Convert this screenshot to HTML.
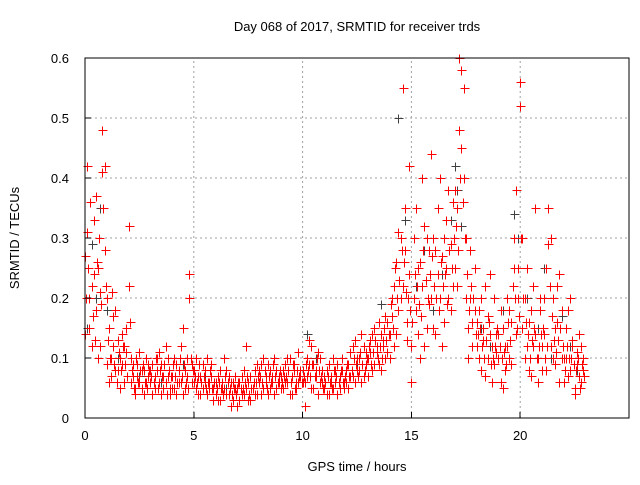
<!DOCTYPE html>
<html><head><meta charset="utf-8"><style>
body{margin:0;background:#fff;}
svg text{font-family:"Liberation Sans",sans-serif;font-size:13px;fill:#000;}
</style></head><body>
<svg id="chart" width="640" height="480" xmlns="http://www.w3.org/2000/svg">
<text x="357" y="31" text-anchor="middle">Day 068 of 2017, SRMTID for receiver trds</text>
<text transform="translate(19,238) rotate(-90)" text-anchor="middle">SRMTID / TECUs</text>
<text x="357" y="471" text-anchor="middle">GPS time / hours</text>
<g id="grid"></g><g id="marks" shape-rendering="crispEdges"></g>
<rect x="85" y="58" width="544" height="360" fill="none" stroke="#000" stroke-width="1" shape-rendering="crispEdges"/>
<g id="ticks" shape-rendering="crispEdges"></g>
</svg>
<script>
const xTicks=[0,5,10,15,20];
const yTicks=[0,0.1,0.2,0.3,0.4,0.5,0.6];
const yTickLabels=["0","0.1","0.2","0.3","0.4","0.5","0.6"];
const redT=[0,0.1,0.2,0.3,0.4,0.5,0.6,0.7,0.8,0.9,1,1.1,1.2,1.3,1.4,1.5,1.6,1.7,1.8,1.9,2,2.1,2.2,2.3,2.4,2.5,2.6,2.7,2.8,2.9,3,3.1,3.2,3.3,3.4,3.5,3.6,3.7,3.8,3.9,4,4.1,4.2,4.3,4.4,4.5,4.6,4.7,4.8,4.9,5,5.1,5.2,5.3,5.4,5.5,5.6,5.7,5.8,5.9,6,6.1,6.2,6.3,6.4,6.5,6.6,6.7,6.8,6.9,7,7.1,7.2,7.3,7.4,7.5,7.6,7.7,7.8,7.9,8,8.1,8.2,8.3,8.4,8.5,8.6,8.7,8.8,8.9,9,9.1,9.2,9.3,9.4,9.5,9.6,9.7,9.8,9.9,10,10.1,10.2,10.3,10.4,10.5,10.6,10.7,10.8,10.9,11,11.1,11.2,11.3,11.4,11.5,11.6,11.7,11.8,11.9,12,12.1,12.2,12.3,12.4,12.5,12.6,12.7,12.8,12.9,13,13.1,13.2,13.3,13.4,13.5,13.6,13.7,13.8,13.9,14,14.1,14.2,14.3,14.4,14.5,14.6,14.7,14.8,14.9,15,15.1,15.2,15.3,15.4,15.5,15.6,15.7,15.8,15.9,16,16.1,16.2,16.3,16.4,16.5,16.6,16.7,16.8,16.9,17,17.1,17.2,17.3,17.4,17.5,17.6,17.7,17.8,17.9,18,18.1,18.2,18.3,18.4,18.5,18.6,18.7,18.8,18.9,19,19.1,19.2,19.3,19.4,19.5,19.6,19.7,19.8,19.9,20,20.1,20.2,20.3,20.4,20.5,20.6,20.7,20.8,20.9,21,21.1,21.2,21.3,21.4,21.5,21.6,21.7,21.8,21.9,22,22.1,22.2,22.3,22.4,22.5,22.6,22.7,22.8,22.9];
const redA=[.27,.42,.15,.22,.33,.18,.25,.12,.48,.28, .09,.15,.07,.12,.18,.08,.1,.14,.06,.11, .32,.1,.07,.05,.09,.06,.08,.04,.1,.07, .06,.09,.05,.08,.11,.04,.07,.06,.1,.05, .07,.05,.09,.06,.12,.04,.08,.1,.24,.06, .08,.05,.07,.04,.09,.06,.1,.05,.07,.03, .04,.07,.03,.06,.05,.08,.04,.06,.03,.07, .05,.03,.07,.04,.12,.06,.03,.05,.08,.04, .06,.09,.05,.07,.04,.08,.06,.1,.05,.07, .07,.05,.09,.06,.1,.04,.08,.06,.11,.07, .08,.06,.1,.13,.05,.09,.07,.11,.06,.08, .05,.08,.04,.07,.1,.06,.09,.05,.08,.06, .06,.09,.11,.07,.13,.08,.1,.06,.12,.09, .1,.13,.08,.15,.11,.09,.14,.12,.1,.16, .14,.2,.12,.26,.18,.3,.22,.35,.16,.42, .12,.3,.18,.25,.1,.22,.32,.15,.28,.2, .15,.28,.35,.2,.12,.3,.25,.38,.18,.22, .25,.35,.48,.58,.55,.2,.15,.28,.12,.18, .12,.18,.08,.15,.22,.1,.14,.06,.2,.11, .1,.06,.15,.08,.12,.18,.09,.25,.14,.2, .56,.15,.1,.25,.08,.18,.12,.35,.06,.2, .12,.2,.08,.35,.3,.1,.15,.22,.06,.18, .1,.15,.07,.2,.12,.05,.09,.14,.06,.1];
const redB=[.14,.31,.2,.12,.24,.37,.1,.21,.41,.42, .2,.06,.1,.17,.08,.13,.05,.09,.12,.15, .22,.06,.09,.04,.07,.11,.05,.08,.06,.09, .08,.04,.07,.1,.06,.09,.05,.12,.07,.04, .05,.1,.04,.08,.06,.15,.05,.07,.2,.09, .06,.1,.04,.07,.05,.08,.04,.06,.09,.05, .06,.03,.08,.05,.1,.04,.07,.02,.06,.05, .02,.06,.04,.08,.05,.03,.07,.05,.04,.09, .08,.04,.1,.06,.09,.05,.07,.04,.08,.06, .05,.08,.06,.1,.04,.07,.09,.05,.06,.08, .06,.02,.07,.09,.12,.05,.08,.04,.1,.06, .07,.04,.09,.06,.05,.08,.04,.07,.1,.05, .08,.05,.07,.12,.06,.1,.08,.14,.07,.11, .07,.11,.14,.09,.12,.16,.08,.13,.17,.11, .1,.17,.22,.14,.31,.2,.55,.28,.13,.24, .06,.2,.35,.14,.26,.4,.12,.3,.19,.44, .3,.14,.24,.4,.27,.16,.33,.2,.29,.36, .38,.22,.6,.45,.4,.3,.1,.2,.16,.25, .16,.1,.2,.13,.07,.17,.24,.12,.09,.14, .14,.18,.05,.12,.2,.1,.16,.3,.38,.25, .52,.3,.2,.12,.16,.07,.22,.14,.1,.18, .08,.14,.25,.29,.12,.2,.09,.16,.24,.1, .06,.1,.18,.08,.13,.04,.11,.07,.12,.08];
const redC=[.2,.25,.36,.17,.13,.26,.3,.19,.35,.22, .13,.1,.21,.09,.06,.11,.08,.12,.09,.07, .16,.08,.05,.1,.06,.08,.09,.06,.05,.08, .07,.06,.1,.05,.08,.07,.09,.04,.08,.07, .09,.07,.06,.1,.07,.09,.06,.05,.1,.08, .07,.06,.09,.06,.07,.05,.06,.08,.05,.06, .05,.06,.05,.04,.07,.06,.05,.04,.05,.04, .06,.05,.05,.06,.07,.04,.05,.06,.06,.07, .07,.06,.08,.05,.07,.06,.09,.07,.06,.08, .06,.07,.07,.08,.06,.09,.05,.08,.07,.06, .07,.09,.08,.07,.09,.07,.1,.08,.07,.05, .06,.07,.06,.05,.08,.07,.06,.08,.06,.07, .09,.07,.08,.1,.09,.07,.11,.09,.08,.1, .12,.09,.11,.13,.1,.12,.1,.15,.13,.14, .19,.15,.25,.2,.23,.28,.26,.21,.2,.18, .16,.24,.22,.19,.17,.28,.23,.2,.24,.27, .22,.2,.18,.26,.22,.24,.19,.28,.25,.3, .32,.28,.4,.36,.3,.24,.18,.22,.2,.14, .14,.15,.12,.1,.13,.16,.09,.1,.12,.15, .12,.1,.11,.09,.16,.13,.22,.2,.15,.17, .3,.2,.16,.14,.1,.13,.15,.1,.12,.14, .15,.1,.12,.22,.17,.13,.11,.13,.15,.12, .08,.12,.1,.1,.09,.08,.1,.05,.09,.07];
const blkT=[0.1,0.3,0.5,0.7,1.0,1.5,2.5,3.5,4.5,5.5,6.5,7.5,8.5,9.5,10.2,10.6,11.5,12.5,13.6,14.1,14.4,14.7,15.2,15.6,16.0,16.4,16.8,17.0,17.1,17.3,17.7,18.2,18.6,19.2,19.7,19.9,20.3,20.8,21.1,21.4,21.9,22.3,22.6];
const blkV=[.15,.29,.2,.35,.18,.1,.07,.06,.09,.07,.05,.06,.08,.07,.14,.1,.08,.09,.19,.2,.5,.33,.22,.28,.18,.24,.33,.42,.38,.32,.2,.15,.12,.18,.34,.3,.2,.15,.25,.1,.17,.12,.08];
const X0=85,X1=629,Y0=418,Y1=58,XMAX=25,YMAX=0.6;
function sx(t){return X0+(X1-X0)*t/XMAX;}
function sy(v){return Y0-(Y0-Y1)*v/YMAX;}
const NS="http://www.w3.org/2000/svg";
const grid=document.getElementById('grid'),marks=document.getElementById('marks'),ticks=document.getElementById('ticks');
function mk(tag,attrs,parent){const e=document.createElementNS(NS,tag);for(const k in attrs)e.setAttribute(k,attrs[k]);parent.appendChild(e);return e;}
xTicks.forEach(t=>{
  if(t>0){const g=mk('line',{x1:sx(t),x2:sx(t),y1:Y0,y2:Y1,stroke:'#a0a0a0','stroke-dasharray':'2,3'},grid);
  
  }
  const tk=mk('line',{x1:sx(t),x2:sx(t),y1:Y0,y2:Y0-6,stroke:'#000'},ticks);
  
  
  const lb=mk('text',{x:sx(t),y:Y0+22,'text-anchor':'middle'},ticks);lb.textContent=String(t);
  
  
});
yTicks.forEach((v,i)=>{
  if(v>0){const g=mk('line',{x1:X0,x2:X1,y1:sy(v),y2:sy(v),stroke:'#a0a0a0','stroke-dasharray':'2,3'},grid);
  
  }
  const tk=mk('line',{x1:X0,x2:X0+6,y1:sy(v),y2:sy(v),stroke:'#000'},ticks);
  
  
  const lb=mk('text',{x:X0-16,y:sy(v)+5,'text-anchor':'end'},ticks);lb.textContent=yTickLabels[i];
  
  
});
function plus(t,v,col,name){
  const x=Math.round(sx(t))+0.5,y=Math.round(sy(v))+0.5;
  const p=mk('path',{d:`M${x-4},${y}H${x+5}M${x},${y-4}V${y+5}`,stroke:col,'stroke-width':1,fill:'none'},marks);
  
  
}
blkT.forEach((t,i)=>plus(t,blkV[i],'#404040','black-point'));
redT.forEach((t,i)=>{plus(t,redA[i],'#ff0000','red-point');plus(t,redB[i],'#ff0000','red-point');plus(t+0.05,redC[i],'#ff0000','red-point');});
</script>
</body></html>
